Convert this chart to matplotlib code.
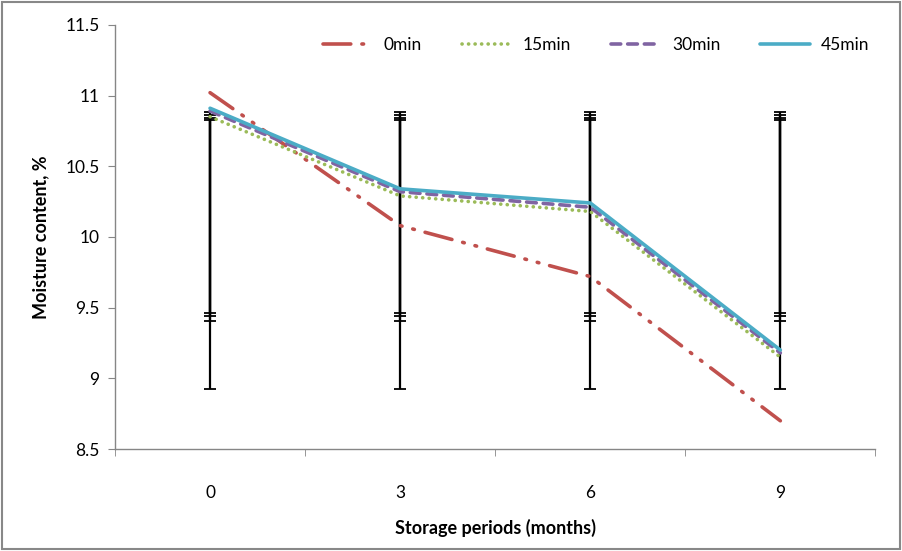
import numpy as np
import matplotlib
matplotlib.use("Agg")
import matplotlib.pyplot as plt
from matplotlib.patches import Rectangle

plt.rcParams['font.family'] = ['Lato', 'DejaVu Sans']
plt.rcParams['lines.scale_dashes'] = False

# storage period (months) and moisture content (%) per treatment time
periods = ['0', '3', '6', '9']
m_0min = [11.02, 10.08, 9.72, 8.70]
m_15min = [10.85, 10.29, 10.18, 9.15]
m_30min = [10.89, 10.32, 10.21, 9.18]
m_45min = [10.91, 10.34, 10.24, 9.20]

series = [
    ('0min', m_0min, '#C0504D', (0, (20, 8, 1.2, 8, 1.2, 8))),
    ('15min', m_15min, '#9BBB59', (0, (0.1, 4.6))),
    ('30min', m_30min, '#8064A2', (0, (7, 5))),
    ('45min', m_45min, '#4BACC6', '-'),
]

fig = plt.figure(figsize=(9.02, 5.51), dpi=100)
ax = fig.add_axes([0.1275, 0.185, 0.843, 0.77])
x = np.arange(len(periods))

# error bars: series mean +/- sample SD, as the spreadsheet draws them
for name, vals, col, ls in series:
    v = np.array(vals)
    ax.errorbar(x, np.full(len(v), v.mean()), yerr=v.std(ddof=1), fmt='none',
                ecolor='black', elinewidth=1.6, capsize=4, capthick=1.3, zorder=2)

for name, vals, col, ls in series:
    ax.plot(x, vals, color=col, linestyle=ls, lw=2.6, label=name,
            dash_capstyle='round', solid_capstyle='round', zorder=3)

ax.set_xlim(-0.5, 3.5)
ax.set_ylim(8.5, 11.5)
ax.set_yticks(np.arange(8.5, 11.51, 0.5))
ax.set_yticklabels(['8.5', '9', '9.5', '10', '10.5', '11', '11.5'])
ax.set_xticks(x)
ax.set_xticklabels(periods)
ax.set_xticks(np.arange(-0.5, 3.6, 1), minor=True)
ax.tick_params(axis='x', which='major', length=0, pad=26, labelsize=12.5)
ax.tick_params(axis='x', which='minor', length=5, color='#868686', direction='out')
ax.tick_params(axis='y', length=5, color='#868686', labelsize=12.5, pad=6)

for s in ['top', 'right']:
    ax.spines[s].set_visible(False)
for s in ['left', 'bottom']:
    ax.spines[s].set_color('#868686')
    ax.spines[s].set_linewidth(1.0)

ax.set_ylabel('Moisture content, %', fontsize=13, fontweight='bold', labelpad=12)
ax.set_xlabel('Storage periods (months)', fontsize=13, fontweight='bold', labelpad=13)

fig.legend(loc='center', bbox_to_anchor=(0.661, 0.918), ncol=4, frameon=False,
           fontsize=12.5, handlelength=2.9, columnspacing=2.3, handletextpad=0.6)

# thin grey frame around the whole chart
fig.patches.append(Rectangle((0.002, 0.003), 0.996, 0.994, transform=fig.transFigure,
                             fill=False, edgecolor='#888888', lw=1.5))

fig.savefig('out.png', dpi=100)
